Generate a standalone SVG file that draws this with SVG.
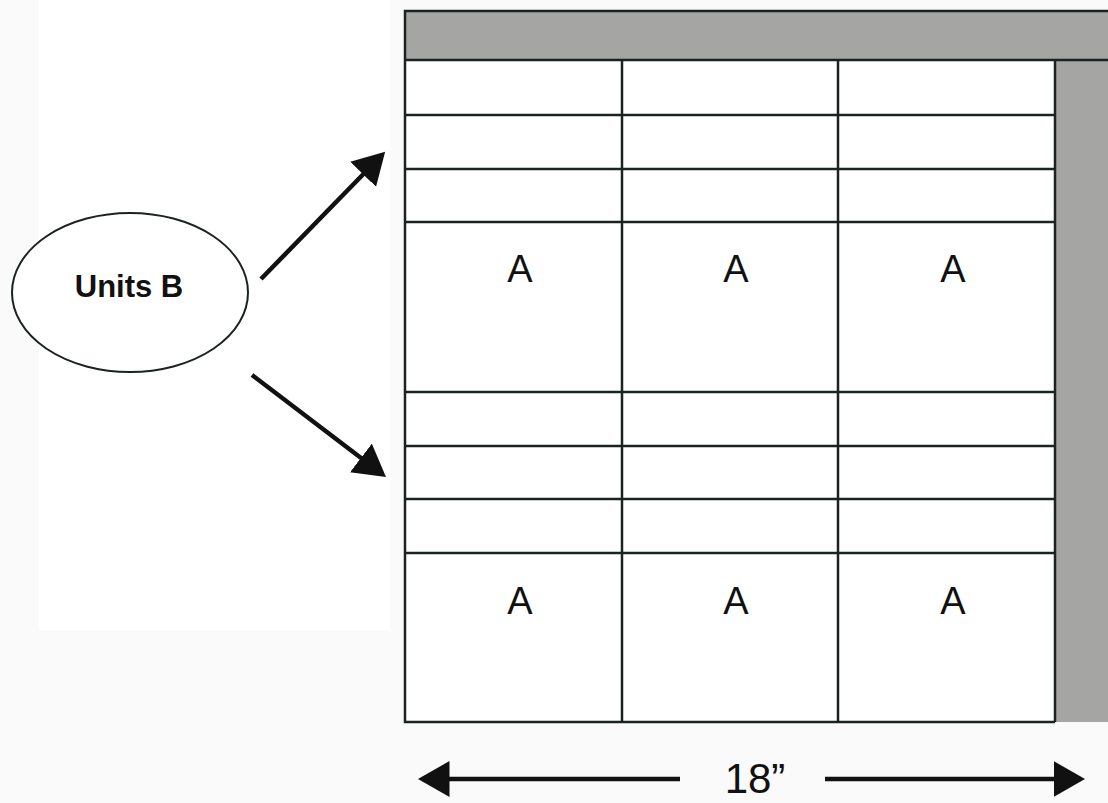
<svg xmlns="http://www.w3.org/2000/svg" width="1108" height="803" viewBox="0 0 1108 803">
<style>
.ln{stroke:#1c2222;stroke-width:2.5;fill:none}
.gray{fill:#a5a6a4}
.lbl{font-family:"Liberation Sans",Arial,sans-serif;font-size:38px;fill:#111;text-anchor:middle}
.arr{stroke:#111;stroke-width:4.5;fill:none}
</style>
<defs>
<marker id="ah" markerWidth="8" markerHeight="8" refX="6" refY="4" orient="auto" markerUnits="strokeWidth">
<path d="M0,0 L7,4 L0,8 Z" fill="#111"/>
</marker>
</defs>
<rect x="0" y="0" width="1108" height="803" fill="#fafafa"/>
<rect x="39" y="0" width="351" height="630" fill="#fff"/>
<g id="table">
<rect x="405" y="11" width="710" height="711" fill="#fff"/>
<rect class="gray" x="405" y="11" width="710" height="49"/>
<rect class="gray" x="1055" y="60" width="60" height="662"/>
<path class="ln" d="M1110,11 H405 V722 H1055 M405,60 H1110 M622,60 V722 M838,60 V722 M1055,60 V722 M405,115 H1055 M405,169 H1055 M405,222 H1055 M405,392 H1055 M405,446 H1055 M405,499 H1055 M405,553 H1055"/>
</g>
<g id="labels">
<text class="lbl" x="520" y="282">A</text>
<text class="lbl" x="736" y="282">A</text>
<text class="lbl" x="953" y="282">A</text>
<text class="lbl" x="520" y="614">A</text>
<text class="lbl" x="736" y="614">A</text>
<text class="lbl" x="953" y="614">A</text>
</g>
<g id="unitsB">
<ellipse cx="130" cy="292.5" rx="118" ry="79.5" fill="#fff" stroke="#1c2222" stroke-width="2"/>
<text x="129" y="297" font-family="'Liberation Sans',Arial,sans-serif" font-weight="bold" font-size="31" fill="#111" text-anchor="middle">Units B</text>
</g>
<g id="connectors">
<line class="arr" x1="261" y1="279" x2="382" y2="155" marker-end="url(#ah)"/>
<line class="arr" x1="252" y1="375" x2="382.4" y2="474.3" marker-end="url(#ah)"/>
<line class="arr" x1="680" y1="779" x2="422.5" y2="779" marker-end="url(#ah)"/>
<line class="arr" x1="825" y1="779" x2="1080.5" y2="779" marker-end="url(#ah)"/>
</g>
<text x="755" y="793" font-family="'Liberation Sans',Arial,sans-serif" font-size="42" fill="#111" text-anchor="middle">18”</text>
</svg>
